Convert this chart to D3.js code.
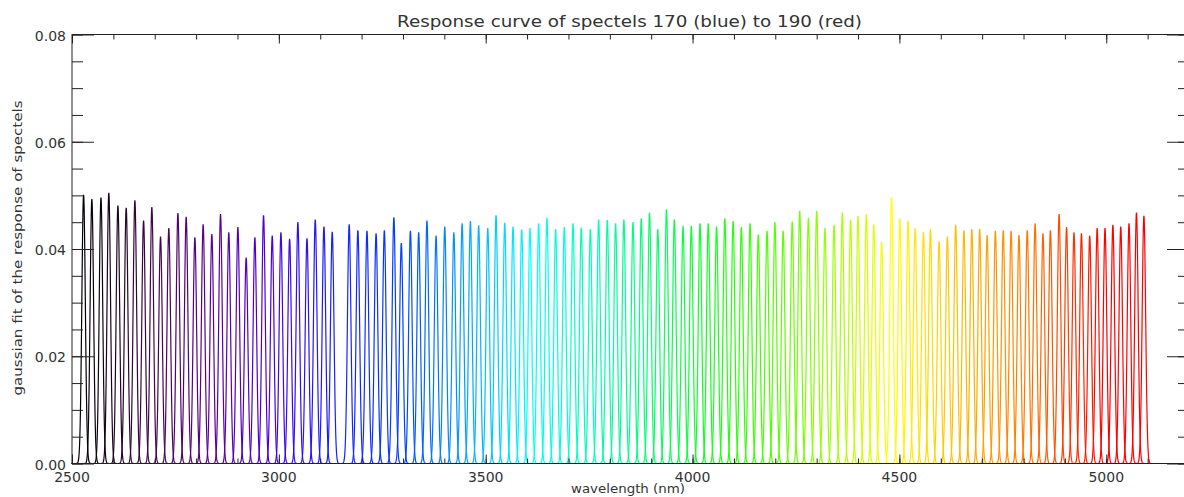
<!DOCTYPE html>
<html>
<head>
<meta charset="utf-8">
<script src="https://cdn.jsdelivr.net/npm/d3@7"></script>
<style>
  html, body { margin: 0; padding: 0; background: #fff; }
  svg { display: block; }
  text { font-family: "DejaVu Sans", sans-serif; fill: #333; }
</style>
</head>
<body>
<div id="chart"></div>
<script>
// ---- data ----
const titleText = "Response curve of spectels 170 (blue) to 190 (red)";
const xTitle = "wavelength (nm)";
const yTitle = "gaussian fit of the response of spectels";

// peak centres of each gaussian response (nm)
const centers = [
  2528, 2548, 2570, 2589, 2611, 2631, 2652, 2673, 2693, 2714,
  2734, 2756, 2776, 2797, 2817, 2838, 2859, 2879, 2901, 2921,
  2942, 2963, 2984, 3005, 3026, 3046, 3068, 3088, 3109, 3129,
  3170, 3191, 3213, 3235, 3255, 3278, 3296, 3318, 3338, 3358,
  3380, 3401, 3423, 3443, 3463, 3483, 3505, 3525, 3546, 3566,
  3587, 3607, 3628, 3648, 3669, 3690, 3711, 3731, 3753, 3773,
  3794, 3814, 3834, 3856, 3876, 3896, 3916, 3937, 3956, 3977,
  3997, 4018, 4038, 4058, 4078, 4098, 4118, 4139, 4159, 4180,
  4199, 4219, 4241, 4259, 4280, 4300, 4320, 4342, 4362, 4382,
  4400, 4420, 4438, 4457, 4481, 4501, 4521, 4538, 4558, 4575,
  4596, 4616, 4636, 4656, 4675, 4694, 4712, 4732, 4751, 4770,
  4789, 4809, 4828, 4847, 4865, 4886, 4904, 4922, 4940, 4960,
  4978, 4997, 5016, 5035, 5055, 5073, 5091
];

// peak amplitudes of each gaussian
const heights = [
  0.0501, 0.0493, 0.0496, 0.0505, 0.0481, 0.0477, 0.0491, 0.0453, 0.0478, 0.0423,
  0.0439, 0.0467, 0.0460, 0.0422, 0.0446, 0.0428, 0.0465, 0.0431, 0.0441, 0.0384,
  0.0422, 0.0463, 0.0425, 0.0431, 0.0419, 0.0450, 0.0420, 0.0455, 0.0442, 0.0432,
  0.0446, 0.0435, 0.0434, 0.0429, 0.0435, 0.0459, 0.0411, 0.0434, 0.0431, 0.0453,
  0.0425, 0.0442, 0.0431, 0.0448, 0.0452, 0.0444, 0.0439, 0.0463, 0.0449, 0.0442,
  0.0436, 0.0439, 0.0448, 0.0458, 0.0437, 0.0441, 0.0448, 0.0440, 0.0437, 0.0455,
  0.0454, 0.0448, 0.0455, 0.0450, 0.0457, 0.0468, 0.0437, 0.0474, 0.0455, 0.0443,
  0.0443, 0.0448, 0.0448, 0.0442, 0.0457, 0.0452, 0.0441, 0.0448, 0.0427, 0.0434,
  0.0450, 0.0434, 0.0451, 0.0471, 0.0458, 0.0471, 0.0439, 0.0445, 0.0468, 0.0455,
  0.0462, 0.0465, 0.0446, 0.0414, 0.0496, 0.0457, 0.0453, 0.0439, 0.0432, 0.0437,
  0.0415, 0.0423, 0.0445, 0.0435, 0.0437, 0.0437, 0.0426, 0.0434, 0.0435, 0.0434,
  0.0426, 0.0435, 0.0448, 0.0429, 0.0435, 0.0465, 0.0441, 0.0431, 0.0429, 0.0425,
  0.0439, 0.0439, 0.0445, 0.0442, 0.0448, 0.0468, 0.0462
];

const sigmaNm = 4.2;            // gaussian width (nm)
const halfSpanNm = 30;          // extent of each drawn curve around its centre
const xDomain = [2500, 5200];
const yDomain = [0, 0.08];
const xMajorTicks = [2500, 3000, 3500, 4000, 4500, 5000];
const xTickLabels = ["2500", "3000", "3500", "4000", "4500", "5000"];
const yMajorTicks = [0, 0.02, 0.04, 0.06, 0.08];
const yTickLabels = ["0.00", "0.02", "0.04", "0.06", "0.08"];

// colour ramp (by curve index), rainbow from black/purple to red
const rampIndex = [0, 8, 15, 22, 28, 36, 42, 48, 51, 56, 64, 72, 78, 88, 94, 100, 106, 112, 117, 121, 126];
const rampColor = ["#000000", "#40084a", "#5e0095", "#4a00e0", "#1a1aff", "#0040ff", "#0090ff",
                   "#00d8ff", "#00ffff", "#00ffc8", "#00ff80", "#10ff20", "#40ff00", "#a8ff00",
                   "#ffff00", "#ffd000", "#ffa000", "#ff7000", "#ff3000", "#ff0000", "#ff0000"];

// ---- layout ----
const W = 1184, H = 497;
const mLeft = 72, mRight = 1189, mTop = 34.5, mBottom = 463.5;

const svg = d3.select("#chart").append("svg").attr("width", W).attr("height", H);

const x = d3.scaleLinear().domain(xDomain).range([mLeft, mRight]);
const y = d3.scaleLinear().domain(yDomain).range([mBottom, mTop]);
const color = d3.scaleLinear().domain(rampIndex).range(rampColor).interpolate(d3.interpolateRgb);

// ---- curves ----
const line = d3.line().x(d => x(d[0])).y(d => y(d[1]));
const curvesG = svg.append("g");
centers.forEach((c, i) => {
  const a = heights[i];
  const pts = d3.range(c - halfSpanNm, c + halfSpanNm + 0.001, 0.5)
    .map(w => [w, a * Math.exp(-((w - c) * (w - c)) / (2 * sigmaNm * sigmaNm))]);
  curvesG.append("path")
    .attr("d", line(pts))
    .attr("fill", "none")
    .attr("stroke", color(i))
    .attr("stroke-width", 1.2);
});

// ---- axes (IDL style box, ticks inward on all sides) ----
const axisColor = "#222";
const xMinor = d3.range(2500, 5201, 100);
const yMinor = d3.range(0, 0.0801, 0.005);

function styleAxis(g) {
  g.select(".domain").remove();
  g.selectAll(".tick line").attr("stroke", axisColor);
  g.selectAll(".tick text").remove();
}

svg.append("g").attr("transform", `translate(0,${mBottom})`)
  .call(d3.axisBottom(x).tickValues(xMinor).tickSizeInner(-5).tickSizeOuter(0)).call(styleAxis);
svg.append("g").attr("transform", `translate(0,${mBottom})`)
  .call(d3.axisBottom(x).tickValues(xMajorTicks).tickSizeInner(-9).tickSizeOuter(0)).call(styleAxis);
svg.append("g").attr("transform", `translate(0,${mTop})`)
  .call(d3.axisTop(x).tickValues(xMinor).tickSizeInner(-5).tickSizeOuter(0)).call(styleAxis);
svg.append("g").attr("transform", `translate(0,${mTop})`)
  .call(d3.axisTop(x).tickValues(xMajorTicks).tickSizeInner(-9).tickSizeOuter(0)).call(styleAxis);
svg.append("g").attr("transform", `translate(${mLeft},0)`)
  .call(d3.axisLeft(y).tickValues(yMinor).tickSizeInner(-11).tickSizeOuter(0)).call(styleAxis);
svg.append("g").attr("transform", `translate(${mLeft},0)`)
  .call(d3.axisLeft(y).tickValues(yMajorTicks).tickSizeInner(-22).tickSizeOuter(0)).call(styleAxis);
svg.append("g").attr("transform", `translate(${mRight},0)`)
  .call(d3.axisRight(y).tickValues(yMinor).tickSizeInner(-11).tickSizeOuter(0)).call(styleAxis);
svg.append("g").attr("transform", `translate(${mRight},0)`)
  .call(d3.axisRight(y).tickValues(yMajorTicks).tickSizeInner(-22).tickSizeOuter(0)).call(styleAxis);

svg.append("rect")
  .attr("x", mLeft).attr("y", mTop)
  .attr("width", mRight - mLeft).attr("height", mBottom - mTop)
  .attr("fill", "none").attr("stroke", axisColor).attr("stroke-width", 1);

// tick labels
svg.append("g").selectAll("text").data(xMajorTicks).join("text")
  .attr("x", d => x(d)).attr("y", mBottom + 18)
  .attr("text-anchor", "middle").attr("font-size", 14)
  .text((d, i) => xTickLabels[i]);
svg.append("g").selectAll("text").data(yMajorTicks).join("text")
  .attr("x", mLeft - 6).attr("y", d => y(d) + 6)
  .attr("text-anchor", "end").attr("font-size", 14)
  .text((d, i) => yTickLabels[i]);

// titles
svg.append("text")
  .attr("x", 629.5).attr("y", 27)
  .attr("text-anchor", "middle").attr("font-size", 15)
  .attr("textLength", 465).attr("lengthAdjust", "spacingAndGlyphs")
  .text(titleText);
svg.append("text")
  .attr("x", 628).attr("y", 493)
  .attr("text-anchor", "middle").attr("font-size", 13)
  .attr("textLength", 114).attr("lengthAdjust", "spacingAndGlyphs")
  .text(xTitle);
svg.append("text")
  .attr("transform", "translate(22,248) rotate(-90)")
  .attr("text-anchor", "middle").attr("font-size", 13)
  .attr("textLength", 295).attr("lengthAdjust", "spacingAndGlyphs")
  .text(yTitle);
</script>
</body>
</html>
